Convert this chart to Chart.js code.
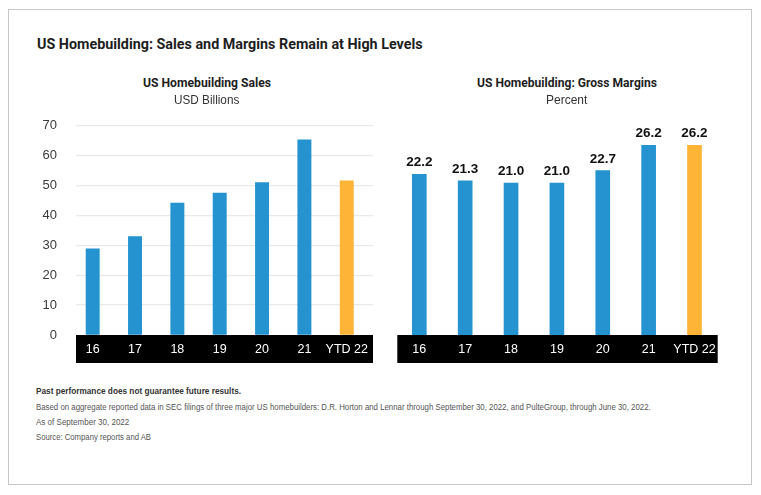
<!DOCTYPE html>
<html><head><meta charset="utf-8">
<script src="https://cdn.jsdelivr.net/npm/chart.js@4.4.1/dist/chart.umd.min.js"></script>
<style>
html,body{margin:0;padding:0;background:#fff;}
body{width:761px;height:495px;position:relative;overflow:hidden;}
#frame{position:absolute;left:8px;top:9px;width:744px;height:476px;border:1px solid #c6c6c6;box-sizing:border-box;}
.t{position:absolute;white-space:nowrap;transform-origin:0 50%;display:inline-block;}
canvas{position:absolute;}
</style></head><body>
<div id="frame"></div>
<canvas id="c1" width="353" height="269" style="left:30px;top:99px;width:353px;height:269px"></canvas>
<canvas id="c2" width="340" height="252" style="left:390px;top:116px;width:340px;height:252px"></canvas>
<script>
// ---- data ----
const categories = ['16', '17', '18', '19', '20', '21', 'YTD 22'];
const salesValues = [28.8, 32.9, 44.1, 47.5, 51.0, 65.3, 51.6];
const marginValues = [22.2, 21.3, 21.0, 21.0, 22.7, 26.2, 26.2];
const salesTicks = [0, 10, 20, 30, 40, 50, 60, 70];

const BLUE = '#2493d0';
const ORANGE = '#fdb437';
const barColors = categories.map((c, i) => i === categories.length - 1 ? ORANGE : BLUE);

// ---- texts ----
const texts = [
  {s: 'US Homebuilding: Sales and Margins Remain at High Levels', x: 36.7, w: 385.6, y: 45, f: '700 14.5px Roboto, "DejaVu Sans", sans-serif', c: '#1e1e1e'},
  {s: 'US Homebuilding Sales', x: 142.7, w: 128, y: 82.7, f: '700 12.5px Roboto, "DejaVu Sans", sans-serif', c: '#1e1e1e'},
  {s: 'US Homebuilding: Gross Margins', x: 476.7, w: 180, y: 82.7, f: '700 12.5px Roboto, "DejaVu Sans", sans-serif', c: '#1e1e1e'},
  {s: 'USD Billions', x: 174, w: 65.3, y: 100, f: '400 12px "Liberation Sans", Arial, sans-serif', c: '#333'},
  {s: 'Percent', x: 546, w: 41.3, y: 100, f: '400 12px "Liberation Sans", Arial, sans-serif', c: '#333'},
  {s: 'Past performance does not guarantee future results.', x: 36, w: 205, y: 391, f: '700 8.5px "Liberation Sans", Arial, sans-serif', c: '#333'},
  {s: 'Based on aggregate reported data in SEC filings of three major US homebuilders: D.R. Horton and Lennar through September 30, 2022, and PulteGroup, through June 30, 2022.', x: 36, w: 614.7, y: 407.3, f: '400 8.5px "Liberation Sans", Arial, sans-serif', c: '#555'},
  {s: 'As of September 30, 2022', x: 36, w: 93.3, y: 422, f: '400 8.5px "Liberation Sans", Arial, sans-serif', c: '#555'},
  {s: 'Source: Company reports and AB', x: 36, w: 115, y: 437, f: '400 8.5px "Liberation Sans", Arial, sans-serif', c: '#555'}
];
const els = texts.map(t => {
  const d = document.createElement('div');
  d.className = 't';
  d.textContent = t.s;
  d.style.font = t.f;
  d.style.color = t.c;
  d.style.lineHeight = '20px';
  d.style.left = t.x + 'px';
  d.style.top = (t.y - 10) + 'px';
  document.body.appendChild(d);
  return d;
});
function fit() {
  els.forEach((d, i) => {
    d.style.transform = 'none';
    const w = d.getBoundingClientRect().width;
    if (w > 0) d.style.transform = 'scaleX(' + (texts[i].w / w) + ')';
  });
}
fit();
if (document.fonts && document.fonts.ready) document.fonts.ready.then(fit);

// ---- plugins ----
const bandPlugin = {
  id: 'band',
  beforeDraw(chart) {
    const s = chart.scales.x, c = chart.ctx;
    c.save();
    c.fillStyle = '#000';
    c.fillRect(s.left, s.top, s.right - s.left, s.bottom - s.top);
    c.restore();
  }
};
const valueLabels = {
  id: 'valueLabels',
  afterDatasetsDraw(chart) {
    const meta = chart.getDatasetMeta(0), c = chart.ctx;
    c.save();
    c.font = 'bold 13.5px "Liberation Sans", Arial, sans-serif';
    c.fillStyle = '#111';
    c.textAlign = 'center';
    c.textBaseline = 'middle';
    meta.data.forEach((bar, i) => c.fillText(marginValues[i].toFixed(1), bar.x, bar.y - 11.6));
    c.restore();
  }
};

function xAxis(min, max) {
  return {
    type: 'linear', min: min, max: max, offset: false,
    afterBuildTicks: s => { s.ticks = categories.map((c, i) => ({value: i})); },
    afterFit: s => { s.height = 28; },
    grid: {display: false, drawTicks: false, offset: false},
    border: {display: false},
    ticks: {
      callback: v => categories[v] !== undefined ? categories[v] : '',
      color: '#fff', autoSkip: false, maxRotation: 0, minRotation: 0, padding: 7,
      font: {family: '"Liberation Sans", Arial, sans-serif', size: 12.5}
    }
  };
}
const common = {
  responsive: false, maintainAspectRatio: false, animation: false,
  plugins: {legend: {display: false}, tooltip: {enabled: false}, title: {display: false}}
};

new Chart(document.getElementById('c1'), {
  type: 'bar',
  data: {datasets: [{data: salesValues.map((v, i) => ({x: i, y: v})), backgroundColor: barColors, barThickness: 13.3, borderWidth: 0}]},
  options: Object.assign({}, common, {
    layout: {padding: {left: 0, right: 10, top: 0, bottom: 5}},
    scales: {
      x: xAxis(-0.394, 6.62),
      y: {
        min: 0, max: 70,
        afterBuildTicks: s => { s.ticks = salesTicks.map(v => ({value: v})); },
        afterFit: s => { s.width = 46; },
        border: {display: false},
        grid: {drawTicks: false, lineWidth: 1.3, color: c => c.tick && c.tick.value === 0 ? 'rgba(0,0,0,0)' : '#e9e9e9'},
        ticks: {padding: 19, color: '#3a3a3a', font: {family: '"Liberation Sans", Arial, sans-serif', size: 13}}
      }
    }
  }),
  plugins: [bandPlugin]
});

new Chart(document.getElementById('c2'), {
  type: 'bar',
  data: {datasets: [{data: marginValues.map((v, i) => ({x: i, y: v})), backgroundColor: barColors, barThickness: 14, borderWidth: 0}]},
  options: Object.assign({}, common, {
    layout: {padding: {left: 7.3, right: 12.3, top: 10, bottom: 5}},
    scales: {
      x: xAxis(-0.48, 6.506),
      y: {display: false, min: 0, max: 28.87}
    }
  }),
  plugins: [bandPlugin, valueLabels]
});
</script>
</body></html>
